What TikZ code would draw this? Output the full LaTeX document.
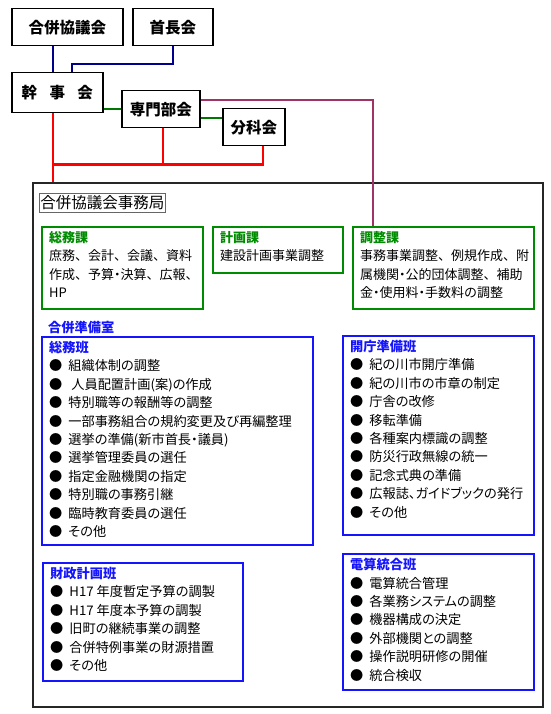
\documentclass[tikz,border=0pt]{standalone}
\usepackage{fontspec}
\setmainfont{Noto Sans CJK JP}[RawFeature=+palt]
\newfontfamily\fullwfont{Noto Sans CJK JP}
\usetikzlibrary{positioning,calc}
\definecolor{knavy}{RGB}{0,0,140}
\definecolor{kgreen}{RGB}{0,140,0}
\definecolor{kred}{RGB}{255,0,0}
\definecolor{kpurple}{RGB}{160,50,100}
\definecolor{hblue}{RGB}{20,20,255}
\newcommand{\itm}[1]{●\hspace{6pt}#1}
\newcommand{\ndot}{{\addfontfeature{RawFeature=+palt}・}}
\newcommand{\katitle}[1]{{\color{kgreen}\bfseries #1}}
\newcommand{\hantitle}[1]{{\color{hblue}\bfseries #1}}

\begin{document}
\begin{tikzpicture}[x=1pt, y=-1pt,
    topbox/.style={draw, line width=1.5pt, anchor=north west, inner sep=0pt,
                   font=\fontsize{15.5}{18}\selectfont\bfseries},
    kabox/.style={draw=kgreen, line width=1.5pt, anchor=north west, inner sep=0pt},
    hanbox/.style={draw=hblue, line width=1.8pt, anchor=north west, inner sep=0pt},
    boxtxt/.style={anchor=north west, align=left, inner xsep=8pt, inner ysep=5pt,
                   font=\fontsize{13.2}{18.4}\selectfont},
    katxt/.style={boxtxt, font=\fullwfont\fontsize{13}{18.4}\selectfont},
    navyline/.style={knavy, line width=2pt},
    grline/.style={kgreen!85!black, line width=2pt},
    rline/.style={kred, line width=2.5pt},
    pline/.style={kpurple, line width=2pt}
]
\useasboundingbox (0,0) rectangle (550,714);

% Upper meetings
\node[topbox, minimum width=111, minimum height=37] (kyogi) at (11,8) {合併協議会};
\node[topbox, minimum width=80, minimum height=37] (shucho) at (132,8) {首長会};
\node[topbox, minimum width=91, minimum height=40] (kanji) at (11,72) {幹\hspace{0.8em}事\hspace{0.8em}会};
\node[topbox, minimum width=78, minimum height=37] (senmon) at (121,90) {専門部会};
\node[topbox, minimum width=62, minimum height=37] (bunka) at (222,108) {分科会};

% Office
\node[draw=black!85, line width=1.5pt, anchor=north west, inner sep=0pt,
      minimum width=510, minimum height=524] (jimu) at (32,182) {};
\node[draw=black!60, line width=0.8pt, anchor=north west, inner sep=1pt,
      minimum width=126, minimum height=19, font=\fontsize{15.5}{18}\selectfont] (jimutitle) at (39,193) {合併協議会事務局};

% Sections
\node[kabox, minimum width=161, minimum height=82] (somuka) at (41,226) {};
\node[katxt] (somukatxt) at (somuka.north west)
    {\katitle{総務課}\\庶務、会計、会議、資料\\作成、予算\ndot 決算、広報、\\HP};
\node[kabox, minimum width=130, minimum height=46] (keikaku) at (212,226) {};
\node[katxt] (keikakutxt) at (keikaku.north west)
    {\katitle{計画課}\\建設計画事業調整};
\node[kabox, minimum width=181, minimum height=82] (chosei) at (352,226) {};
\node[katxt] (choseitxt) at (chosei.north west)
    {\katitle{調整課}\\事務事業調整、例規作成、附\\属機関\ndot 公的団体調整、補助\\金\ndot 使用料\ndot 手数料の調整};

% Preparation room
\node[anchor=west, inner sep=0pt, text=hblue, font=\fontsize{13.2}{16}\selectfont\bfseries] (junbi) at (48,328) {合併準備室};

\node[hanbox, minimum width=271, minimum height=208] (somuhan) at (41,336) {};
\node[boxtxt] (somuhantxt) at (somuhan.north west)
    {\hantitle{総務班}\\
     \itm{組織体制の調整}\\
     \itm{\hspace{3pt}人員配置計画(案)の作成}\\
     \itm{特別職等の報酬等の調整}\\
     \itm{一部事務組合の規約変更及び再編整理}\\
     \itm{選挙の準備(新市首長・議員)}\\
     \itm{選挙管理委員の選任}\\
     \itm{指定金融機関の指定}\\
     \itm{特別職の事務引継}\\
     \itm{臨時教育委員の選任}\\
     \itm{その他}};

\node[hanbox, minimum width=191, minimum height=199] (kaicho) at (342,335) {};
\node[boxtxt] (kaichotxt) at (kaicho.north west)
    {\hantitle{開庁準備班}\\
     \itm{紀の川市開庁準備}\\
     \itm{紀の川市の市章の制定}\\
     \itm{庁舎の改修}\\
     \itm{移転準備}\\
     \itm{各種案内標識の調整}\\
     \itm{防災行政無線の統一}\\
     \itm{記念式典の準備}\\
     \itm{広報誌、ガイドブックの発行}\\
     \itm{その他}};

\node[hanbox, minimum width=200, minimum height=118] (zaisei) at (42,562) {};
\node[boxtxt] (zaiseitxt) at (zaisei.north west)
    {\hantitle{財政計画班}\\
     \itm{H17 年度暫定予算の調製}\\
     \itm{H17 年度本予算の調製}\\
     \itm{旧町の継続事業の調整}\\
     \itm{合併特例事業の財源措置}\\
     \itm{その他}};

\node[hanbox, minimum width=191, minimum height=136] (densan) at (342,553) {};
\node[boxtxt] (densantxt) at (densan.north west)
    {\hantitle{電算統合班}\\
     \itm{電算統合管理}\\
     \itm{各業務システムの調整}\\
     \itm{機器構成の決定}\\
     \itm{外部機関との調整}\\
     \itm{操作説明研修の開催}\\
     \itm{統合検収}};

% Connectors
\coordinate (b1) at ([xshift=-4.5pt]kanji.north);
\coordinate (b2) at ([xshift=14.5pt]kanji.north);
\draw[navyline] (kyogi.south -| b1) -- (b1);
\draw[navyline] (shucho.south) -- ++(0,18) -| (b2);

\coordinate (g2) at ([yshift=9.5pt]bunka.west);
\draw[grline] (kanji.east |- senmon.west) -- (senmon.west);
\draw[grline] (g2 -| senmon.east) -- (g2);

\coordinate (p0) at ([yshift=9.5pt]senmon.east);
\coordinate (p1) at ([xshift=-70.5pt]chosei.north);
\draw[pline] (p0) -| (p1);

\coordinate (r0) at ([xshift=-4.5pt]kanji.south);
\coordinate (rj) at ([yshift=-51pt]r0);
\coordinate (r1) at ([xshift=2pt]senmon.south);
\coordinate (r2) at ([xshift=9pt]bunka.south);
\draw[rline] (r0) -- (r0 |- jimu.north);
\draw[rline] (rj) -| (r2);
\draw[rline] (r1) -- (r1 |- rj);

\end{tikzpicture}
\end{document}
